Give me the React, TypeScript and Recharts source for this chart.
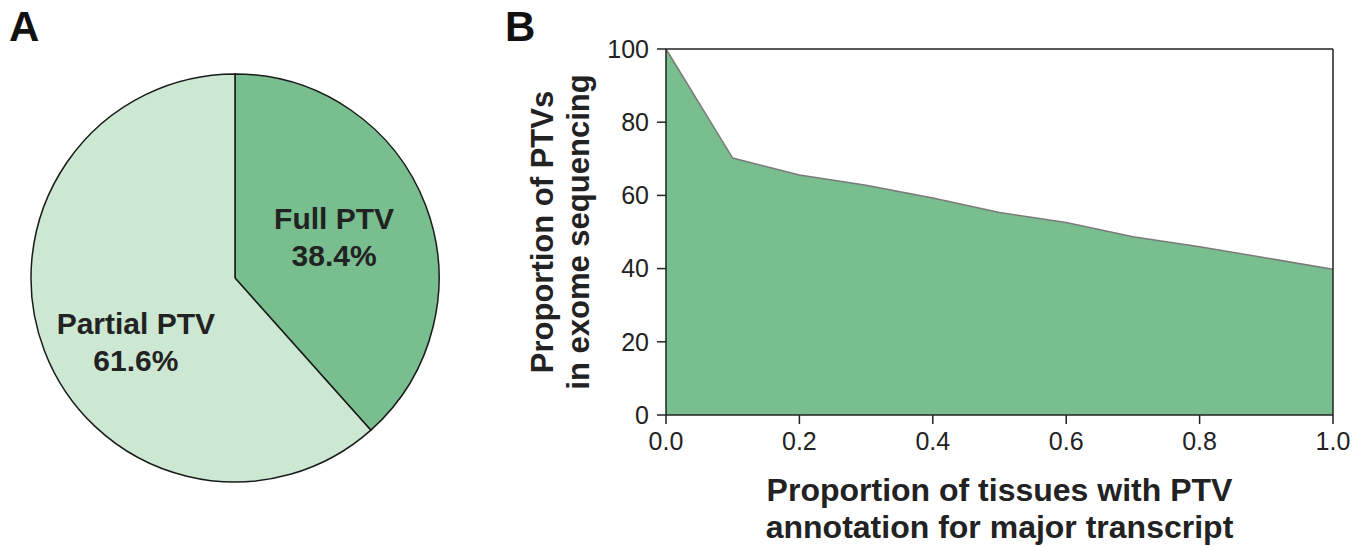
import React from "react";
import {
  PieChart,
  Pie,
  Cell,
  AreaChart,
  Area,
  XAxis,
  YAxis,
  ReferenceLine,
  Label,
} from "recharts";

const sliceNames = ["Full PTV", "Partial PTV"];
const sliceShares = [38.4, 61.6];
const sliceColors = ["#79BE8F", "#CCE8D3"];

const tissueShare = [0, 0.1, 0.2, 0.3, 0.4, 0.5, 0.6, 0.7, 0.8, 0.9, 1.0];
const exomeShare = [100, 70.2, 65.6, 62.8, 59.3, 55.3, 52.6, 48.7, 46.0, 42.9, 39.8];

const xTicks = [0, 0.2, 0.4, 0.6, 0.8, 1.0];
const yTicks = [0, 20, 40, 60, 80, 100];

const FONT = "'Liberation Sans', Arial, Helvetica, sans-serif";
const NARROW = "'Liberation Sans Narrow', 'Liberation Sans', Arial, sans-serif";
const INK = "#222";

const pieData = sliceNames.map((name, i) => ({ name, value: sliceShares[i] }));
const areaData = tissueShare.map((t, i) => ({ t, pct: exomeShare[i] }));

const RADIAN = Math.PI / 180;

const renderSliceLabel = (props: any) => {
  const { cx, cy, midAngle, outerRadius, index, name, value } = props;
  const r = outerRadius * 0.52;
  const x = cx + r * Math.cos(-midAngle * RADIAN);
  const y = cy + r * Math.sin(-midAngle * RADIAN) + (index === 1 ? 26 : -3);
  return (
    <text
      x={x}
      y={y}
      textAnchor="middle"
      fill={INK}
      fontFamily={FONT}
      fontWeight="bold"
      fontSize={30}
    >
      <tspan x={x} dy={-8}>{name}</tspan>
      <tspan x={x} dy={37}>{value.toFixed(1)}%</tspan>
    </text>
  );
};

const YTitle = ({ viewBox }: any) => {
  const cy = viewBox.y + viewBox.height / 2;
  const x1 = viewBox.x - 64;
  const x2 = viewBox.x - 28;
  return (
    <g fontFamily={FONT} fontWeight="bold" fontSize={31} fill={INK}>
      <text x={x1} y={cy} textAnchor="middle" dominantBaseline="central" transform={`rotate(-90 ${x1} ${cy})`}>
        Proportion of PTVs
      </text>
      <text x={x2} y={cy} textAnchor="middle" dominantBaseline="central" transform={`rotate(-90 ${x2} ${cy})`}>
        in exome sequencing
      </text>
    </g>
  );
};

const XTitle = ({ viewBox }: any) => {
  const cx = viewBox.x + viewBox.width / 2;
  const top = viewBox.y;
  return (
    <g fontFamily={FONT} fontWeight="bold" fontSize={32} fill={INK}>
      <text x={cx} y={top + 75} textAnchor="middle" dominantBaseline="central">
        Proportion of tissues with PTV
      </text>
      <text x={cx} y={top + 112} textAnchor="middle" dominantBaseline="central">
        annotation for major transcript
      </text>
    </g>
  );
};

const panelLabel: React.CSSProperties = {
  position: "absolute",
  fontFamily: NARROW,
  fontWeight: "bold",
  fontSize: 42,
  lineHeight: 1,
  color: "#111",
};

export default function App() {
  return (
    <div style={{ position: "absolute", left: 0, top: 0, width: 1369, height: 546, background: "#fff" }}>
      <div style={{ ...panelLabel, left: 9, top: 6 }}>A</div>
      <div style={{ ...panelLabel, left: 505, top: 6 }}>B</div>

      <div style={{ position: "absolute", left: 0, top: 0 }}>
        <PieChart width={480} height={546} margin={{ top: 0, right: 0, bottom: 0, left: 0 }}>
          <Pie
            data={pieData}
            dataKey="value"
            nameKey="name"
            cx={235}
            cy={278}
            outerRadius={204}
            startAngle={90}
            endAngle={-270}
            stroke="#1a1a1a"
            strokeWidth={1.5}
            label={renderSliceLabel}
            labelLine={false}
            isAnimationActive={false}
          >
            {pieData.map((d, i) => (
              <Cell key={d.name} fill={sliceColors[i]} />
            ))}
          </Pie>
        </PieChart>
      </div>

      <div style={{ position: "absolute", left: 500, top: 0 }}>
        <AreaChart
          width={869}
          height={546}
          data={areaData}
          margin={{ top: 49, right: 36, bottom: 101, left: 106 }}
        >
          <XAxis
            dataKey="t"
            type="number"
            domain={[0, 1]}
            ticks={xTicks}
            tickFormatter={(v: number) => v.toFixed(1)}
            height={30}
            tickSize={9}
            tickMargin={8}
            axisLine={{ stroke: INK, strokeWidth: 1.5 }}
            tickLine={{ stroke: INK, strokeWidth: 1.5 }}
            tick={{ fill: INK, fontSize: 25, fontFamily: FONT }}
          >
            <Label content={<XTitle />} />
          </XAxis>
          <YAxis
            type="number"
            domain={[0, 100]}
            ticks={yTicks}
            width={60}
            tickSize={9}
            tickMargin={8}
            axisLine={{ stroke: INK, strokeWidth: 1.5 }}
            tickLine={{ stroke: INK, strokeWidth: 1.5 }}
            tick={{ fill: INK, fontSize: 25, fontFamily: FONT }}
          >
            <Label content={<YTitle />} />
          </YAxis>
          <Area
            type="linear"
            dataKey="pct"
            stroke="#7a7a7a"
            strokeWidth={1.5}
            fill="#79BE8F"
            fillOpacity={1}
            dot={false}
            activeDot={false}
            isAnimationActive={false}
          />
          <ReferenceLine y={100} stroke={INK} strokeWidth={1.5} />
          <ReferenceLine x={1} stroke={INK} strokeWidth={1.5} />
        </AreaChart>
      </div>
    </div>
  );
}
